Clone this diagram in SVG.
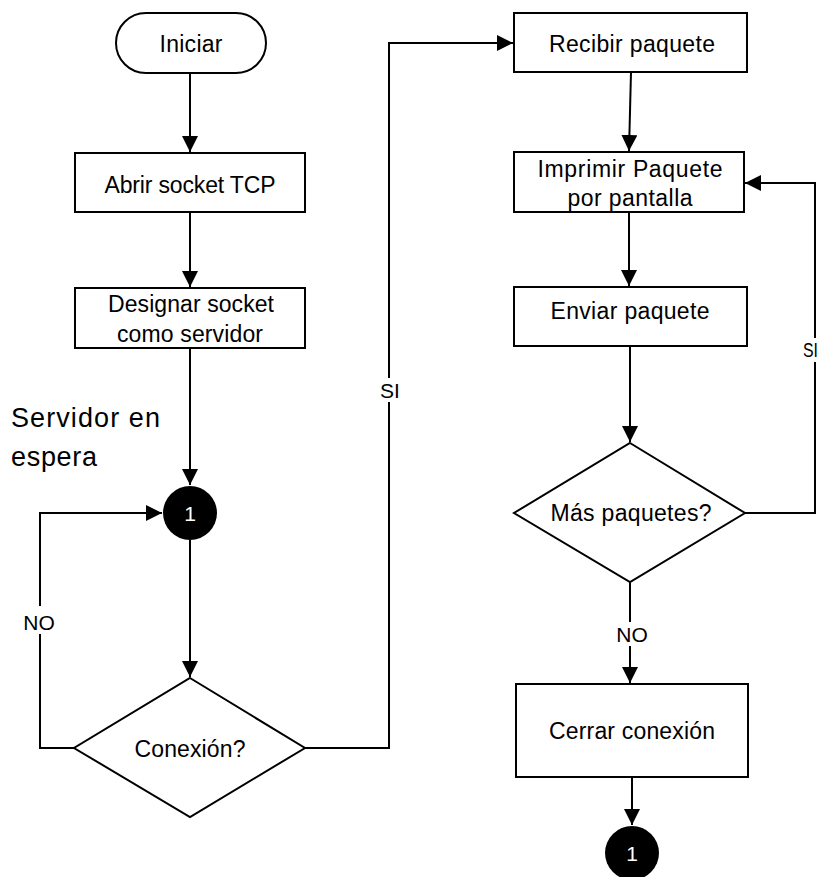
<svg xmlns="http://www.w3.org/2000/svg" width="822" height="877" viewBox="0 0 822 877">
  <defs>
    <marker id="arrow" markerUnits="userSpaceOnUse" markerWidth="17" markerHeight="17" refX="16" refY="8" orient="auto">
      <path d="M0,0 L16,8 L0,16 Z" fill="#000"/>
    </marker>
  </defs>
  <style>
    .shape { fill: #fff; stroke: #000; stroke-width: 2; }
    .dot { fill: #000; stroke: none; }
    .edge { fill: none; stroke: #000; stroke-width: 2; }
    .arrow { marker-end: url(#arrow); }
    text { font-family: "Liberation Sans", Arial, sans-serif; font-size: 23px; fill: #000; text-anchor: middle; }
    .num { fill: #fff; font-size: 21px; }
    .big { font-size: 27px; text-anchor: start; }
    .lbl { font-size: 21px; }
    .gap { fill: #fff; stroke: none; }
  </style>

  <rect width="822" height="877" fill="#fff"/>

  <!-- connectors -->
  <g id="connectors">
    <path class="edge arrow" d="M190,73 L190,152"/>
    <path class="edge arrow" d="M190,212 L190,287"/>
    <path class="edge arrow" d="M190,348 L190,485"/>
    <path class="edge arrow" d="M190,540 L190,677"/>
    <!-- NO: back to connector 1 -->
    <path class="edge arrow" d="M74,748 L40,748 L40,513 L162,513"/>
    <!-- SI: on to receiving -->
    <path class="edge arrow" d="M305,748 L389,748 L389,43 L513,43"/>
    <path class="edge arrow" d="M631,72 L629,151"/>
    <path class="edge arrow" d="M629,212 L629,286"/>
    <path class="edge arrow" d="M630,346 L630,442"/>
    <!-- SI: next packet -->
    <path class="edge arrow" d="M745,513 L815,513 L815,183 L745,183"/>
    <!-- NO: close -->
    <path class="edge arrow" d="M630,582 L630,683"/>
    <path class="edge arrow" d="M632,777 L632,825"/>
    <!-- edge labels -->
    <rect class="gap" x="24" y="606" width="34" height="28"/>
    <text class="lbl" x="39" y="630">NO</text>
    <rect class="gap" x="377" y="378" width="26" height="24"/>
    <text class="lbl" x="390" y="398">SI</text>
    <rect class="gap" x="802" y="338" width="20" height="24"/>
    <text class="lbl" x="803" y="357" style="text-anchor:start" textLength="15" lengthAdjust="spacingAndGlyphs">SI</text>
    <rect class="gap" x="616" y="622" width="32" height="24"/>
    <text class="lbl" x="632" y="642">NO</text>
  </g>

  <g id="start">
    <rect class="shape" x="116" y="13" width="150" height="60" rx="30" ry="30"/>
    <text x="191" y="52" textLength="63">Iniciar</text>
  </g>

  <g id="open-socket">
    <rect class="shape" x="75" y="153" width="230" height="59"/>
    <text x="190" y="193" textLength="171">Abrir socket TCP</text>
  </g>

  <g id="bind-server">
    <rect class="shape" x="75" y="288" width="230" height="60"/>
    <text x="191" y="312" textLength="166">Designar socket</text>
    <text x="190" y="342" textLength="146">como servidor</text>
  </g>

  <g id="waiting-label">
    <text class="big" x="11" y="427" textLength="149">Servidor en</text>
    <text class="big" x="11" y="466" textLength="86">espera</text>
  </g>

  <g id="connector-1-top">
    <circle class="dot" cx="190" cy="513" r="27"/>
    <text class="num" x="190" y="521">1</text>
  </g>

  <g id="connection-check">
    <polygon class="shape" points="190,678 305,748 190,817 74,748"/>
    <text x="190" y="757" textLength="111">Conexión?</text>
  </g>

  <g id="receive">
    <rect class="shape" x="514" y="13" width="233" height="59"/>
    <text x="632" y="52" textLength="166">Recibir paquete</text>
  </g>

  <g id="print">
    <rect class="shape" x="514" y="152" width="230" height="60"/>
    <text x="630" y="177" textLength="185">Imprimir Paquete</text>
    <text x="630" y="206" textLength="125">por pantalla</text>
  </g>

  <g id="send">
    <rect class="shape" x="514" y="287" width="233" height="59"/>
    <text x="630" y="319" textLength="159">Enviar paquete</text>
  </g>

  <g id="more-packets">
    <polygon class="shape" points="630,443 745,513 630,582 514,513"/>
    <text x="631" y="521" textLength="161">Más paquetes?</text>
  </g>

  <g id="close">
    <rect class="shape" x="516" y="684" width="232" height="93"/>
    <text x="632" y="739" textLength="166">Cerrar conexión</text>
  </g>

  <g id="connector-1-bottom">
    <circle class="dot" cx="632" cy="853" r="27"/>
    <text class="num" x="632" y="861">1</text>
  </g>
</svg>
